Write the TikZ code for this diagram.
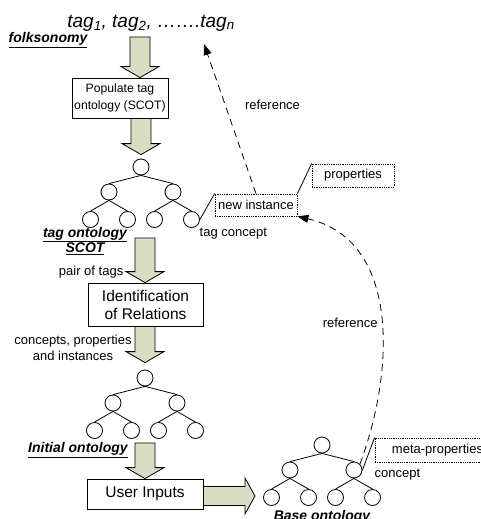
\documentclass[tikz,border=0pt]{standalone}
\usepackage{fontspec}
\setmainfont{Liberation Sans}
\usetikzlibrary{positioning}
\usetikzlibrary{calc}
\usetikzlibrary{trees}
\usetikzlibrary{arrows.meta}

\definecolor{arrowfill}{RGB}{216,221,196}

% block arrows: from the start point down (or right) to the tip
\newcommand{\bigarrowdown}[2]{%
	\path[bigarrow] let \p1=(#1), \p2=(#2) in
	(\x2-10pt,\y1) -- (\x2+10pt,\y1) -- (\x2+10pt,\y2+11pt) -- (\x2+19pt,\y2+11pt)
	-- (\x2,\y2) -- (\x2-19pt,\y2+11pt) -- (\x2-10pt,\y2+11pt) -- cycle;}
\newcommand{\bigarrowright}[2]{%
	\path[bigarrow] let \p1=(#1), \p2=(#2) in
	(\x1,\y2+9.5pt) -- (\x2-10pt,\y2+9.5pt) -- (\x2-10pt,\y2+18pt) -- (\x2,\y2)
	-- (\x2-10pt,\y2-18pt) -- (\x2-10pt,\y2-9.5pt) -- (\x1,\y2-9.5pt) -- cycle;}

\begin{document}
\begin{tikzpicture}[x=1pt,y=-1pt,line width=0.8pt,
	>={Stealth[length=11pt,width=8pt,inset=0pt]},
	procbox/.style={draw,fill=white,align=center,inner sep=0pt},
	tnode/.style={circle,draw,minimum size=16pt,inner sep=0pt},
	notebox/.style={draw,densely dotted,inner sep=0pt,font=\fontsize{13}{15}\selectfont},
	lbl/.style={font=\fontsize{13}{16}\selectfont},
	ontoname/.style={font=\fontsize{14}{14.5}\selectfont\bfseries\itshape,align=center},
	bigarrow/.style={draw,fill=arrowfill},
	refline/.style={dash pattern=on 7pt off 5pt},
	every child node/.style={tnode},
	level distance=25pt,
	level 1/.style={sibling distance=64pt},
	level 2/.style={sibling distance=37pt,level distance=27.5pt},
	edge from parent path={(\tikzparentnode.south) -- (\tikzchildnode.north)}]
	
	\useasboundingbox (0,0) rectangle (480,519);
	\clip (0,0) rectangle (480,519);
	
	\node[font=\fontsize{19}{21}\selectfont\itshape] (tags) at (151,23)
		{tag\textsubscript{1}, tag\textsubscript{2}, …….tag\textsubscript{n}};
	\node[ontoname] (folkname) at (48,40) {\underline{folksonomy}};
	
	\node[procbox,minimum width=96pt,minimum height=40pt,font=\fontsize{12.2}{17}\selectfont]
		(populate) at (120,98) {Populate tag\\ontology (SCOT)};
	\node[procbox,minimum width=115pt,minimum height=43pt,font=\fontsize{15.5}{18}\selectfont]
		(identify) at (145.5,304.5) {Identification\\of Relations};
	\node[procbox,minimum width=116pt,minimum height=30pt,font=\fontsize{15.5}{18}\selectfont]
		(userin) at (145,494) {User Inputs};
	
	% the three ontologies
	\foreach \tn/\tx/\ty in {t1/141/167, t2/145/378, base/322/445}
		\node[tnode] (\tn) at (\tx,\ty) {}
			child {node {} child {node {}} child {node {}}}
			child {node {} child {node {}} child {node {}}};
	
	\node[ontoname] (tagontoname) at (85,241) {\underline{tag ontology}\\\underline{SCOT}};
	\node[ontoname] (initname) at (78,450) {\underline{Initial ontology}};
	\node[ontoname] (basename) at (322,518) {\underline{Base ontology}};
	
	\node[lbl,anchor=east] (pairlbl) at (127,272) {pair of tags};
	\node[lbl,align=center] (cpilbl) at (73,348) {concepts, properties\\and instances};
	\node[lbl,anchor=west] (tagconcept) at (196,234) {tag concept};
	\node[lbl,anchor=west] (conceptlbl) at (371,475) {concept};
	
	\node[notebox,minimum width=82pt,minimum height=22pt] (newinst) at (256,205) {new instance};
	\node[notebox,minimum width=82pt,minimum height=23pt] (props) at (353,175.5) {properties};
	\node[notebox,minimum width=125pt,minimum height=24pt] (metaprops) at (437.5,450) {meta-properties};
	
	\draw (t1-2-2.east) -- (newinst.north west);
	\draw (newinst.north east) -- (props.north west);
	\draw (base-2.east) -- (metaprops.north west);
	
	% block arrows
	\coordinate (a1s) at (140,37);
	\coordinate (a3s) at (145,238);
	\coordinate (a5s) at (145,443);
	\coordinate (a6t) at (255,496);
	\bigarrowdown{a1s}{populate.north -| a1s}
	\bigarrowdown{populate.south -| t1}{$(t1.north)+(0,-4)$}
	\bigarrowdown{a3s}{identify.north -| a3s}
	\bigarrowdown{identify.south}{$(t2.north)+(0,-7)$}
	\bigarrowdown{a5s}{userin.north}
	\bigarrowright{userin.east}{a6t}
	
	% references
	\coordinate (tagref) at (204,44);
	\draw[->,refline] (newinst.north) -- node[lbl,pos=0.59,anchor=west,xshift=16pt] {reference} (tagref);
	\draw[->,refline] (base-2.north east) .. controls (395,370) and (400,240) ..
		node[lbl,pos=0.47,anchor=east] {reference} (newinst.south east);
\end{tikzpicture}
\end{document}
